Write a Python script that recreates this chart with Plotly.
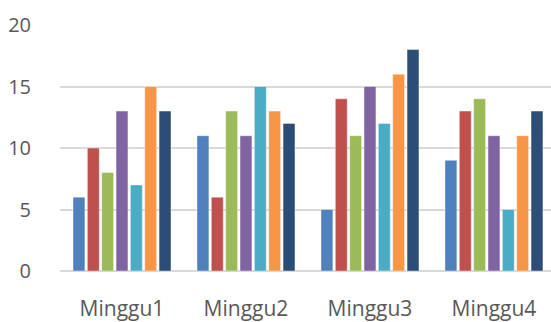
import plotly.graph_objects as go

categories = ["Minggu1", "Minggu2", "Minggu3", "Minggu4"]

series_1 = [6, 11, 5, 9]
series_2 = [10, 6, 14, 13]
series_3 = [8, 13, 11, 14]
series_4 = [13, 11, 15, 11]
series_5 = [7, 15, 12, 5]
series_6 = [15, 13, 16, 11]
series_7 = [13, 12, 18, 13]

y_ticks = [0, 5, 10, 15, 20]

series = [
    ("Seri 1", series_1, "#4F81BD"),
    ("Seri 2", series_2, "#C0504D"),
    ("Seri 3", series_3, "#9BBB59"),
    ("Seri 4", series_4, "#8064A2"),
    ("Seri 5", series_5, "#4BACC6"),
    ("Seri 6", series_6, "#F79646"),
    ("Seri 7", series_7, "#2C4D75"),
]

fig = go.Figure()
for name, vals, color in series:
    fig.add_trace(go.Bar(
        name=name, x=categories, y=vals,
        marker=dict(color=color, line=dict(width=0.6, color="rgba(255,255,255,0.7)")),
    ))

fig.update_layout(
    width=551, height=322,
    margin=dict(l=60, r=0, t=25, b=49),
    paper_bgcolor="white", plot_bgcolor="white",
    barmode="group", bargap=0.19, bargroupgap=0.17,
    showlegend=False,
    font=dict(family="Open Sans", color="#595959", size=19),
)
fig.update_xaxes(
    range=[-0.5, 3.46], showgrid=False, showline=False, zeroline=False,
    ticks="outside", ticklen=19, tickcolor="rgba(0,0,0,0)",
    tickfont=dict(size=21),
)
fig.update_yaxes(
    range=[0, 20], tickvals=y_ticks, showgrid=True, gridcolor="#D9D9D9", gridwidth=1.5,
    zeroline=True, zerolinecolor="#D9D9D9", zerolinewidth=1.5, showline=False,
    ticks="outside", ticklen=24, tickcolor="rgba(0,0,0,0)",
    tickfont=dict(size=20),
)

fig.write_html("out.html")
